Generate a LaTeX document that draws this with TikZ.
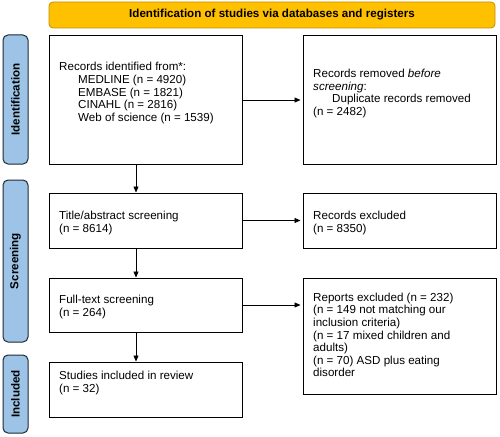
\documentclass[tikz,border=0pt]{standalone}
\usepackage{fontspec}
\setmainfont{Liberation Sans}
\usetikzlibrary{arrows.meta}

\definecolor{bannerfill}{HTML}{FFC000}
\definecolor{bannerline}{HTML}{BF9000}
\definecolor{stagefill}{HTML}{9DC3E6}
\definecolor{stageline}{HTML}{1F2A36}

\tikzstyle{banner} = [draw=bannerline,fill=bannerfill,rounded corners=4pt,line width=0.8pt,minimum width=446pt,minimum height=26pt,font=\bfseries\fontsize{11.6}{13}\selectfont]
\tikzstyle{stage} = [draw=stageline,fill=stagefill,rounded corners=5pt,line width=1pt,rotate=90,minimum height=25pt,font=\bfseries\fontsize{11.6}{13}\selectfont]
\tikzstyle{box} = [draw,line width=1pt,minimum width=193pt]
\tikzstyle{txt} = [anchor=west,align=left,inner sep=0pt,font=\fontsize{11.6}{12.6}\selectfont]
\tikzstyle{arr} = [line width=0.7pt,-{Triangle[length=6pt,width=5pt]}]

\begin{document}
\begin{tikzpicture}[x=1pt,y=-1pt]
		\useasboundingbox (0,0) rectangle (500,436);
		\node[banner] (top) at (272,15) {Identification of studies via databases and registers};
		
		\node[stage,minimum width=129pt] (s1) at (15.5,99.5) {Identification};
		\node[stage,minimum width=162pt] (s2) at (15.5,261) {Screening};
		\node[stage,minimum width=78pt] (s3) at (15.5,394) {Included};
		
		\node[box,minimum height=128pt] (b1) at (145.5,100) {};
		\node[box,minimum height=128pt] (b2) at (399.5,100) {};
		\node[box,minimum height=55pt] (b3) at (145.5,220.5) {};
		\node[box,minimum height=55pt] (b4) at (399.5,220.5) {};
		\node[box,minimum height=54pt] (b5) at (145.5,305) {};
		\node[box,minimum height=116pt] (b6) at (399.5,336) {};
		\node[box,minimum height=55pt] (b7) at (145.5,389.5) {};
		
		\node[txt] (t1) at (59,93) {Records identified from*:\\
			\hspace*{19pt}MEDLINE (n = 4920)\\
			\hspace*{19pt}EMBASE (n = 1821)\\
			\hspace*{19pt}CINAHL (n = 2816)\\
			\hspace*{19pt}Web of science (n = 1539)};
		\node[txt] (t2) at (313,93.5) {Records removed \textit{before}\\
			\textit{screening}:\\
			\hspace*{19pt}Duplicate records removed\\
			(n = 2482)};
		\node[txt] (t3) at (59,223) {Title/abstract screening\\(n = 8614)};
		\node[txt] (t4) at (313,223) {Records excluded\\(n = 8350)};
		\node[txt] (t5) at (59,307) {Full-text screening\\(n = 264)};
		\node[txt] (t6) at (313,335) {Reports excluded (n = 232)\\
			(n = 149 not matching our\\
			inclusion criteria)\\
			(n = 17 mixed children and\\
			adults)\\
			(n = 70) ASD plus eating\\
			disorder};
		\node[txt] (t7) at (59,383) {Studies included in review\\(n = 32)};
		
		\draw[arr] (b1.east) -- ([xshift=-2pt]b2.west);
		\draw[arr] (b3.east) -- ([xshift=-2pt]b4.west);
		\draw[arr] (b5.east) -- ([xshift=-2pt]b5.east -| b6.west);
		\draw[arr] ([xshift=-9.5pt]b1.south) -- ([xshift=-9.5pt]b3.north);
		\draw[arr] ([xshift=-9.5pt]b3.south) -- ([xshift=-9.5pt]b5.north);
		\draw[arr] ([xshift=-9.5pt]b5.south) -- ([xshift=-9.5pt]b7.north);
\end{tikzpicture}
\end{document}
